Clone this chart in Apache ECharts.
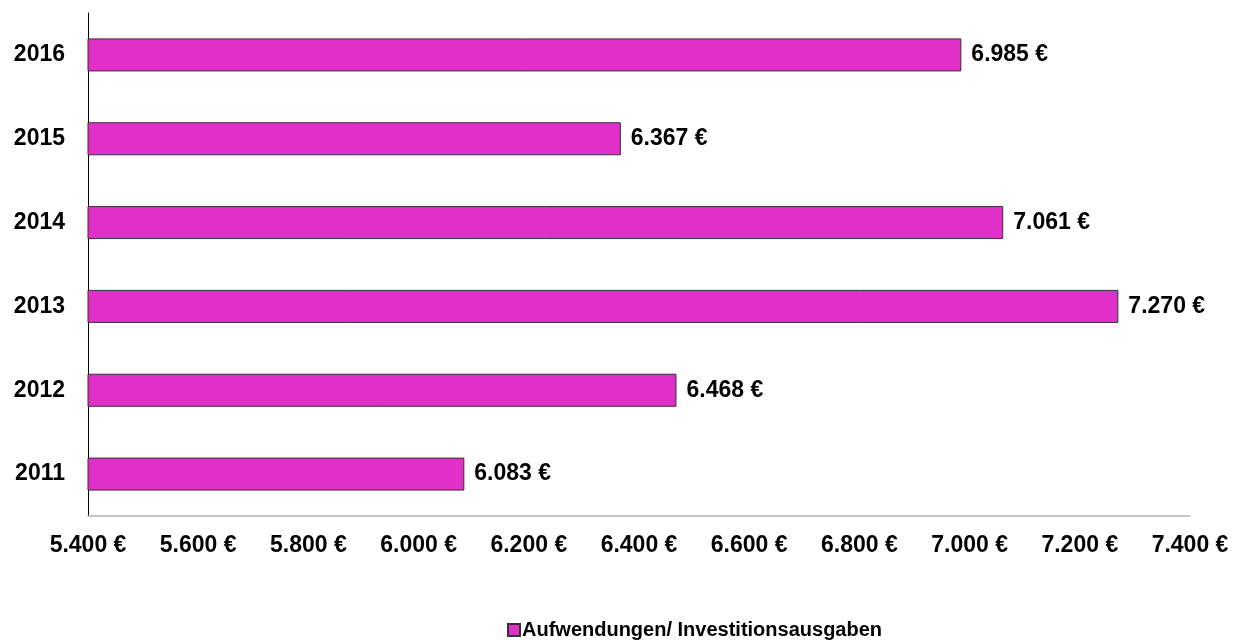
<!DOCTYPE html>
<html>
<head>
<meta charset="utf-8">
<script src="https://cdn.jsdelivr.net/npm/echarts@6/dist/echarts.min.js"></script>
<style>
	html,body{margin:0;padding:0;background:#fff;}
	#chart{width:1233px;height:640px;}
</style>
</head>
<body>
<div id="chart"></div>
<script>
var years = ['2011', '2012', '2013', '2014', '2015', '2016'];
var ausgaben = [6083, 6468, 7270, 7061, 6367, 6985];
var seriesName = 'Aufwendungen/ Investitionsausgaben';
var xMin = 5400, xMax = 7400, xStep = 200;

function euro(v){
	//Tausenderpunkt + Eurozeichen
	var s = String(Math.round(v));
	return s.replace(/\B(?=(\d{3})+(?!\d))/g, '.') + ' €';
}

var myChart = echarts.init(document.getElementById('chart'));
var font = 'Liberation Sans, Arial, sans-serif';
option = {
	animation: false,
	textStyle: {fontFamily: font},
	grid: {left: 88, right: 43, top: 13, bottom: 124},
	legend: {
		left: 507,
		top: 619,
		padding: 0,
		itemWidth: 12,
		itemHeight: 12,
		itemGap: 10,
		icon: 'rect',
		textStyle: {fontSize: 20, lineHeight: 22, fontWeight: 'bold', color: '#000', fontFamily: font, padding: [0, 0, 0, -3]},
		data: [seriesName]
	},
	xAxis: {
		type: 'value',
		min: xMin,
		max: xMax,
		interval: xStep,
		splitLine: {show: false},
		axisTick: {show: false},
		axisLine: {show: true, lineStyle: {color: '#b4b4b4', width: 1.5}},
		axisLabel: {
			margin: 18,
			fontSize: 23,
			fontWeight: 'bold',
			color: '#000',
			fontFamily: font,
			formatter: euro
		}
	},
	yAxis: {
		type: 'category',
		data: years,
		axisTick: {show: false},
		axisLine: {show: true, onZero: false, lineStyle: {color: '#000', width: 1}},
		axisLabel: {
			margin: 23,
			fontSize: 23,
			fontWeight: 'bold',
			color: '#000',
			fontFamily: font
		}
	},
	series: [{
		name: seriesName,
		type: 'bar',
		data: ausgaben,
		barWidth: 33,
		itemStyle: {color: '#e22fc8', borderColor: '#333', borderWidth: 1},
		label: {
			show: true,
			position: 'right',
			distance: 10,
			fontSize: 23,
			fontWeight: 'bold',
			color: '#000',
			fontFamily: font,
			formatter: function(p){ return euro(p.value); }
		}
	}]
};
myChart.setOption(option);
</script>
</body>
</html>
